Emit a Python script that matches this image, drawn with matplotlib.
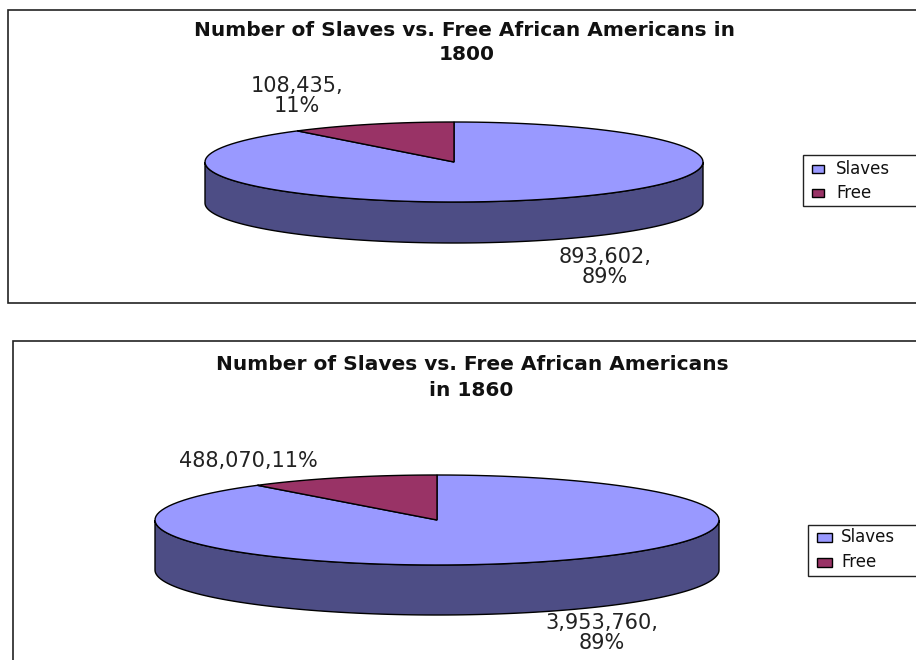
import numpy as np
import matplotlib.pyplot as plt
from matplotlib.patches import Polygon, Rectangle

# data
categories = ["Slaves", "Free"]
years = ["1800", "1860"]
values_1800 = [893602, 108435]
values_1860 = [3953760, 488070]

TOP_COLORS = ["#9999FF", "#993366"]
SIDE_COLOR = "#4D4D85"
EDGE = "#000000"


def ellipse_pts(cx, cy, a, b, t0, t1, n=120):
    # angle measured from 12 o'clock, clockwise, in degrees
    t = np.radians(np.linspace(t0, t1, n))
    return np.column_stack([cx + a * np.sin(t), cy - b * np.cos(t)])


def draw_pie3d(ax, values, cx, cy, a, b, depth):
    vals = np.asarray(values, dtype=float)
    frac = vals / vals.sum()
    bounds = np.concatenate([[0], np.cumsum(frac) * 360])

    # front wall, only the lower half of the rim is visible
    top = ellipse_pts(cx, cy, a, b, 90, 270)
    bot = ellipse_pts(cx, cy + depth, a, b, 270, 90)
    ax.add_patch(Polygon(np.vstack([top, bot]), closed=True, fc=SIDE_COLOR,
                         ec=EDGE, lw=1.0, zorder=2))

    for i in range(len(vals)):
        arc = ellipse_pts(cx, cy, a, b, bounds[i], bounds[i + 1])
        pts = np.vstack([[cx, cy], arc])
        ax.add_patch(Polygon(pts, closed=True, fc=TOP_COLORS[i], ec=EDGE, lw=1.0, zorder=3))


def label_text(v, pct, split):
    sep = ",\n" if split else ","
    return f"{v:,}{sep}{pct}%"


def draw_legend(ax, x, y, w, h, sq_w, sq_h, text_x, rows_y):
    ax.add_patch(Rectangle((x, y), w, h, fc="white", ec="#222222", lw=1.0, zorder=4))
    for k, name in enumerate(categories):
        yy = rows_y[k]
        ax.add_patch(Rectangle((x + 9, yy - sq_h / 2), sq_w, sq_h, fc=TOP_COLORS[k],
                               ec=EDGE, lw=1.0, zorder=5))
        ax.text(text_x, yy, name, ha="left", va="center", fontsize=12,
                family="DejaVu Sans", color="#111111", zorder=5)


fig = plt.figure(figsize=(9.16, 6.6), dpi=100)
ax = fig.add_axes([0, 0, 1, 1])
ax.set_xlim(0, 916)
ax.set_ylim(660, 0)
ax.axis("off")

# panel frames
ax.add_patch(Rectangle((8, 10), 930, 293, fc="white", ec="#222222", lw=1.2, zorder=1))
ax.add_patch(Rectangle((13, 341), 930, 340, fc="white", ec="#222222", lw=1.2, zorder=1))

title_kw = dict(ha="center", va="center", fontsize=14.5, fontweight="bold",
                family="DejaVu Sans", color="#111111", zorder=5)
label_kw = dict(ha="center", va="center", fontsize=15, family="DejaVu Sans",
                color="#222222", linespacing=1.0, zorder=5)

# 1800
ax.text(465, 31, "Number of Slaves vs. Free African Americans in", **title_kw)
ax.text(467, 55, years[0], **title_kw)
draw_pie3d(ax, values_1800, 454, 162, 249, 40, 41)
p1 = [round(100 * v / sum(values_1800)) for v in values_1800]
ax.text(297, 96, label_text(values_1800[1], p1[1], True), **label_kw)
ax.text(605, 267, label_text(values_1800[0], p1[0], True), **label_kw)

# 1860
ax.text(472, 365, "Number of Slaves vs. Free African Americans", **title_kw)
ax.text(471, 390, "in " + years[1], **title_kw)
draw_pie3d(ax, values_1860, 437, 520, 282, 45, 50)
p2 = [round(100 * v / sum(values_1860)) for v in values_1860]
ax.text(248, 461, label_text(values_1860[1], p2[1], False), **label_kw)
ax.text(602, 633, label_text(values_1860[0], p2[0], True), **label_kw)

# legends
draw_legend(ax, 803, 155, 140, 51, 12, 8, 836, (169, 193))
draw_legend(ax, 808, 525, 140, 51, 15, 9, 841, (537, 562))

fig.savefig("out.png", dpi=100)
